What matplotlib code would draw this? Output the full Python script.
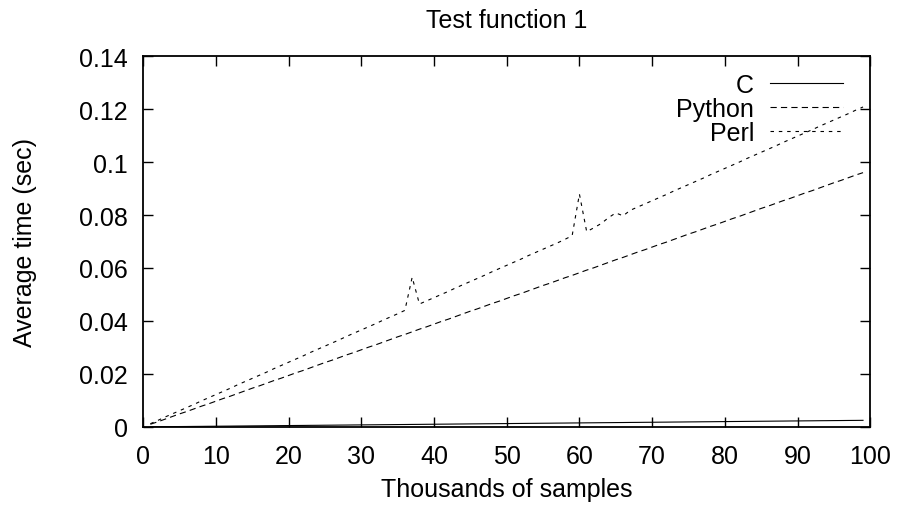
import matplotlib
matplotlib.use("Agg")
import matplotlib.pyplot as plt

plt.rcParams['font.family'] = ['Liberation Sans', 'DejaVu Sans']
plt.rcParams['lines.scale_dashes'] = False

# samples, in thousands
samples = list(range(1, 100))

# average time (sec)
c_times = [0.00003, 0.00005, 0.00008, 0.00010, 0.00013, 0.00015, 0.00018, 0.00020, 0.00023, 0.00025,
           0.00028, 0.00030, 0.00033, 0.00035, 0.00038, 0.00040, 0.00043, 0.00045, 0.00048, 0.00050,
           0.00053, 0.00055, 0.00058, 0.00060, 0.00063, 0.00065, 0.00068, 0.00070, 0.00073, 0.00075,
           0.00078, 0.00080, 0.00083, 0.00085, 0.00088, 0.00090, 0.00093, 0.00095, 0.00098, 0.00100,
           0.00103, 0.00105, 0.00108, 0.00110, 0.00113, 0.00115, 0.00118, 0.00120, 0.00123, 0.00125,
           0.00128, 0.00130, 0.00133, 0.00135, 0.00138, 0.00140, 0.00143, 0.00145, 0.00148, 0.00150,
           0.00153, 0.00155, 0.00158, 0.00160, 0.00163, 0.00165, 0.00168, 0.00170, 0.00173, 0.00175,
           0.00178, 0.00180, 0.00183, 0.00185, 0.00188, 0.00190, 0.00193, 0.00195, 0.00198, 0.00200,
           0.00203, 0.00205, 0.00208, 0.00210, 0.00213, 0.00215, 0.00218, 0.00220, 0.00223, 0.00225,
           0.00228, 0.00230, 0.00233, 0.00235, 0.00238, 0.00240, 0.00243, 0.00245, 0.00248]

python_times = [0.0010, 0.0019, 0.0029, 0.0039, 0.0049, 0.0058, 0.0068, 0.0078, 0.0087, 0.0097,
                0.0107, 0.0116, 0.0126, 0.0136, 0.0146, 0.0155, 0.0165, 0.0175, 0.0184, 0.0194,
                0.0204, 0.0213, 0.0223, 0.0233, 0.0243, 0.0252, 0.0262, 0.0272, 0.0281, 0.0291,
                0.0301, 0.0310, 0.0320, 0.0330, 0.0340, 0.0349, 0.0359, 0.0369, 0.0378, 0.0388,
                0.0398, 0.0407, 0.0417, 0.0427, 0.0437, 0.0446, 0.0456, 0.0466, 0.0475, 0.0485,
                0.0495, 0.0504, 0.0514, 0.0524, 0.0534, 0.0543, 0.0553, 0.0563, 0.0572, 0.0582,
                0.0592, 0.0601, 0.0611, 0.0621, 0.0631, 0.0640, 0.0650, 0.0660, 0.0669, 0.0679,
                0.0689, 0.0698, 0.0708, 0.0718, 0.0728, 0.0737, 0.0747, 0.0757, 0.0766, 0.0776,
                0.0786, 0.0795, 0.0805, 0.0815, 0.0825, 0.0834, 0.0844, 0.0854, 0.0863, 0.0873,
                0.0883, 0.0892, 0.0902, 0.0912, 0.0922, 0.0931, 0.0941, 0.0951, 0.0960]

perl_times = [0.0012, 0.0024, 0.0037, 0.0049, 0.0061, 0.0073, 0.0085, 0.0098, 0.0110, 0.0122,
              0.0134, 0.0146, 0.0159, 0.0171, 0.0183, 0.0195, 0.0207, 0.0220, 0.0232, 0.0244,
              0.0256, 0.0268, 0.0281, 0.0293, 0.0305, 0.0317, 0.0329, 0.0342, 0.0354, 0.0366,
              0.0378, 0.0390, 0.0403, 0.0415, 0.0427, 0.0440, 0.0565, 0.0464, 0.0476, 0.0488,
              0.0500, 0.0512, 0.0525, 0.0537, 0.0549, 0.0561, 0.0573, 0.0586, 0.0598, 0.0610,
              0.0622, 0.0634, 0.0647, 0.0659, 0.0671, 0.0683, 0.0695, 0.0708, 0.0722, 0.0879,
              0.0737, 0.0752, 0.0768, 0.0790, 0.0808, 0.0797, 0.0818, 0.0830, 0.0842, 0.0854,
              0.0866, 0.0878, 0.0891, 0.0903, 0.0915, 0.0927, 0.0939, 0.0952, 0.0964, 0.0976,
              0.0988, 0.1000, 0.1013, 0.1025, 0.1037, 0.1049, 0.1061, 0.1074, 0.1086, 0.1098,
              0.1110, 0.1122, 0.1135, 0.1147, 0.1159, 0.1171, 0.1183, 0.1196, 0.1208]

fig = plt.figure(figsize=(9, 5.1), dpi=100)
ax = fig.add_axes([0.159, 0.161, 0.808, 0.727])

ax.plot(samples, c_times, color='black', lw=0.8, label='C')
ax.plot(samples, python_times, color='black', lw=0.8, dashes=(4.5, 3), label='Python')
ax.plot(samples, perl_times, color='black', lw=0.8, dashes=(2.5, 3.5), label='Perl')

ax.set_xlim(0, 100)
ax.set_ylim(0, 0.14)
ax.set_xticks(range(0, 101, 10))
ax.set_yticks([0, 0.02, 0.04, 0.06, 0.08, 0.1, 0.12, 0.14])
ax.set_yticklabels(['0', '0.02', '0.04', '0.06', '0.08', '0.1', '0.12', '0.14'])
ax.tick_params(direction='in', top=True, right=True, length=7, width=1,
               labelsize=18)
ax.tick_params(axis='y', pad=11)
ax.tick_params(axis='x', pad=12)
for s in ax.spines.values():
    s.set_linewidth(1.3)

ax.set_title('Test function 1', fontsize=18, pad=21)
ax.set_xlabel('Thousands of samples', fontsize=18, labelpad=7)
ax.set_ylabel('Average time (sec)', fontsize=18, labelpad=30)

ax.legend(loc='upper right', frameon=False, markerfirst=False, fontsize=18,
          handlelength=2.9, labelspacing=0.0, borderaxespad=0.0, handletextpad=0.64,
          borderpad=0.0, bbox_to_anchor=(0.962, 0.955))

fig.savefig('out.png', dpi=100)
